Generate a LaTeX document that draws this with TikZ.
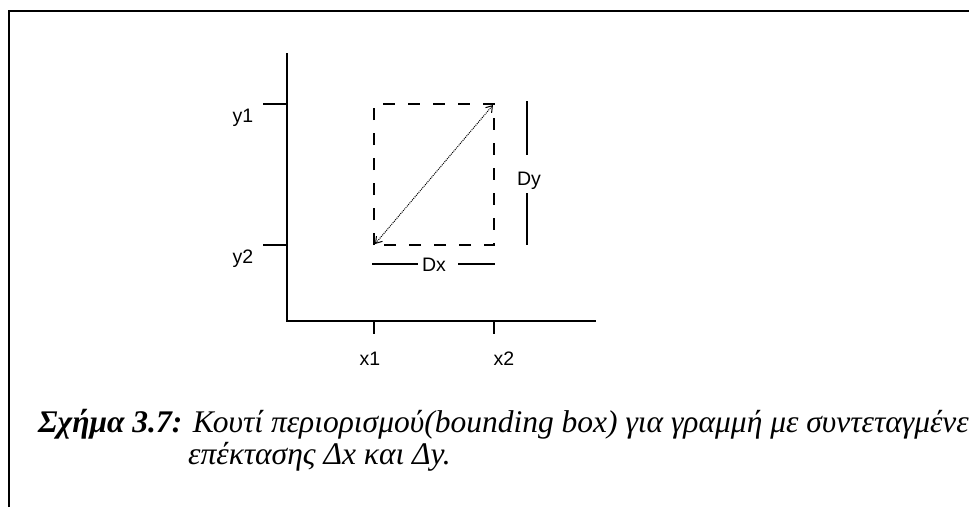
\documentclass[tikz,border=0pt]{standalone}
\usepackage{fontspec}
\setmainfont{Liberation Serif}
\setsansfont{Liberation Sans}
\usetikzlibrary{arrows.meta}
\begin{document}
\begin{tikzpicture}[x=1pt,y=-1pt,
  frameline/.style={line width=2.4pt},
  axisline/.style={line width=1.7pt},
  boxline/.style={line width=1.5pt, dash pattern=on 12pt off 13pt},
  dimline/.style={line width=1.5pt},
  diagline/.style={line width=1pt, densely dotted,
    {Straight Barb[length=6pt,width=8pt,line width=1pt]}-{Straight Barb[length=6pt,width=8pt,line width=1pt]}},
  lab/.style={font=\sffamily\fontsize{19.5}{22}\selectfont, inner sep=0pt, anchor=base},
  capt/.style={font=\fontsize{31.5}{34}\selectfont\itshape, inner sep=0pt, anchor=base west}]
\useasboundingbox (0,0) rectangle (969,507);
\fill[white] (0,0) rectangle (969,507);
% frame (cut off at right and bottom)
\coordinate (fbl) at (9,507);
\coordinate (ftl) at (9,11);
\coordinate (ftr) at (969,11);
\draw[frameline] (fbl) -- (ftl) -- (ftr);
% axes
\coordinate (ytop) at (287,53);
\coordinate (O) at (287,321);
\coordinate (xend) at (596,321);
\draw[axisline] (ytop) -- (O) -- (xend);
% ticks
\coordinate (y1a) at (263,104); \coordinate (y1b) at (287,104);
\coordinate (y2a) at (263,245); \coordinate (y2b) at (287,245);
\coordinate (x1a) at (374,321); \coordinate (x1b) at (374,334);
\coordinate (x2a) at (494,321); \coordinate (x2b) at (494,334);
\draw[axisline] (y1a) -- (y1b);
\draw[axisline] (y2a) -- (y2b);
\draw[axisline] (x1a) -- (x1b);
\draw[axisline] (x2a) -- (x2b);
% labels
\node[lab] (ly1) at (243,122) {y1};
\node[lab] (ly2) at (243,263) {y2};
\node[lab] (lx1) at (370,365) {x1};
\node[lab] (lx2) at (504,365) {x2};
% bounding box
\coordinate (bl) at (374,245);
\coordinate (tr) at (494,104);
\draw[boxline] (bl) rectangle (tr);
\draw[diagline] (375,244) -- (493,105);
% Dy
\node[lab] (ldy) at (529,185) {Dy};
\coordinate (dya) at (527,101); \coordinate (dyb) at (527,155);
\coordinate (dyc) at (527,193); \coordinate (dyd) at (527,245);
\draw[dimline] (dya) -- (dyb);
\draw[dimline] (dyc) -- (dyd);
% Dx
\node[lab] (ldx) at (434,271) {Dx};
\coordinate (dxa) at (372,264); \coordinate (dxb) at (418,264);
\coordinate (dxc) at (458,264); \coordinate (dxd) at (495,264);
\draw[dimline] (dxa) -- (dxb);
\draw[dimline] (dxc) -- (dxd);
% caption
\node[capt] (cap1) at (38,432) {\textbf{Σχήμα 3.7:} Κουτί περιορισμού(bounding box) για γραμμή με συντεταγμένε};
\node[capt] (cap2) at (188,464) {επέκτασης Δx και Δy.};
\end{tikzpicture}
\end{document}
